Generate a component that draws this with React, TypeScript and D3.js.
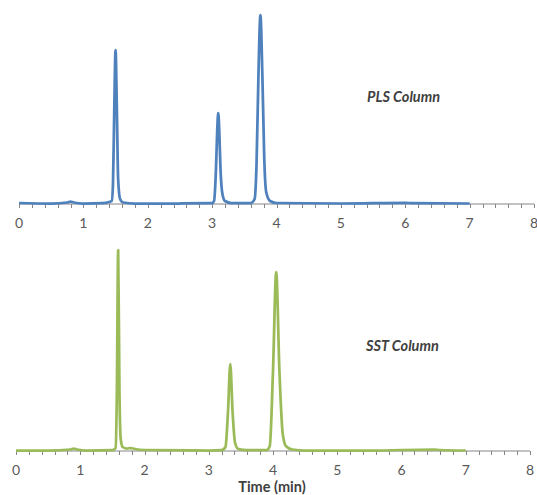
import React, { useEffect, useRef } from 'react';
import * as d3 from 'd3';

// PLS column trace (time in min, detector response)
const plsTime = [0, 0.5, 0.75, 0.8, 0.85, 1.0, 1.3, 1.4, 1.44, 1.46, 1.48, 1.5, 1.52, 1.54, 1.57, 1.62, 1.8, 2.5, 3.0, 3.03, 3.06, 3.08, 3.095, 3.11, 3.13, 3.16, 3.2, 3.3, 3.6, 3.66, 3.69, 3.72, 3.75, 3.78, 3.81, 3.84, 3.9, 4.0, 5.0, 6.0, 6.1, 7.0];
const plsValue = [1, 0.5, 1.5, 2.5, 1.5, 0.5, 0.8, 2, 3, 20, 95, 154, 95, 25, 5, 1.5, 0.5, 0.5, 0.8, 3, 35, 75, 91, 75, 35, 10, 3, 1, 1, 5, 40, 130, 189, 130, 45, 12, 3, 1, 0.5, 1.2, 0.8, 0.5];

// SST column trace
const sstTime = [0, 0.5, 0.85, 0.9, 0.95, 1.1, 1.5, 1.55, 1.57, 1.59, 1.61, 1.63, 1.66, 1.72, 1.78, 1.85, 2.0, 3.0, 3.2, 3.26, 3.3, 3.335, 3.37, 3.41, 3.46, 3.6, 3.9, 3.95, 4.0, 4.05, 4.1, 4.15, 4.2, 4.3, 4.5, 5.5, 6.5, 6.6, 7.0];
const sstValue = [0.5, 0.5, 1.5, 2.5, 1.5, 0.5, 0.8, 3, 60, 201, 60, 12, 4, 2.5, 3, 2, 1, 0.5, 0.8, 4, 40, 87, 40, 8, 2, 0.8, 0.8, 5, 80, 179, 80, 18, 5, 1.5, 0.5, 0.5, 1.5, 1, 0.5];

const xTicks = [0, 1, 2, 3, 4, 5, 6, 7, 8];
const panelLabels = ['PLS Column', 'SST Column'];
const xTitle = 'Time (min)';

const W = 537, H = 495;
const FONT = 'Lato, "Open Sans", sans-serif';

const App = () => {
  const ref = useRef<SVGSVGElement>(null);

  useEffect(() => {
    const svg = d3.select(ref.current);
    svg.selectAll('*').remove();

    const panels = [
      { t: plsTime, v: plsValue, x0: 19, x1: 534, base: 204, color: '#4F81BD', label: panelLabels[0], lx: 367, ly: 102 },
      { t: sstTime, v: sstValue, x0: 16, x1: 530, base: 451, color: '#9BBB59', label: panelLabels[1], lx: 366, ly: 351 },
    ];

    panels.forEach(p => {
      const x = d3.scaleLinear().domain([0, 8]).range([p.x0, p.x1]);
      const y = d3.scaleLinear().domain([0, 200]).range([p.base, p.base - 200]);

      // axis with minor ticks every 0.2 min
      const g = svg.append('g').attr('transform', `translate(0, ${p.base})`);
      g.append('line')
        .attr('x1', x(0)).attr('x2', x(8))
        .attr('stroke', '#868686').attr('stroke-width', 1);
      g.selectAll('line.tick')
        .data(d3.range(0, 40.5).map(i => i / 5))
        .enter().append('line')
        .attr('class', 'tick')
        .attr('x1', d => Math.round(x(d)) + 0.5).attr('x2', d => Math.round(x(d)) + 0.5)
        .attr('y1', 0).attr('y2', 4)
        .attr('stroke', '#868686').attr('stroke-width', 1);
      g.selectAll('text')
        .data(xTicks)
        .enter().append('text')
        .attr('x', d => x(d))
        .attr('y', 24)
        .attr('text-anchor', 'middle')
        .attr('font-family', FONT)
        .attr('font-size', 14)
        .attr('fill', '#595959')
        .text(d => d);

      const data = p.t.map((t, i) => [t, p.v[i]] as [number, number]);
      const line = d3.line<[number, number]>()
        .x(d => x(d[0]))
        .y(d => y(d[1]))
        .curve(d3.curveMonotoneX);
      svg.append('path')
        .datum(data)
        .attr('d', line)
        .attr('fill', 'none')
        .attr('stroke', p.color)
        .attr('stroke-width', 2.75)
        .attr('stroke-linejoin', 'round');

      svg.append('text')
        .attr('x', p.lx).attr('y', p.ly)
        .attr('font-family', FONT)
        .attr('font-size', 14.5)
        .attr('font-weight', 'bold')
        .attr('font-style', 'italic')
        .attr('fill', '#404040')
        .text(p.label);
    });

    svg.append('text')
      .attr('x', 272).attr('y', 492)
      .attr('text-anchor', 'middle')
      .attr('font-family', FONT)
      .attr('font-size', 14.5)
      .attr('font-weight', 'bold')
      .attr('fill', '#404040')
      .text(xTitle);
  }, []);

  return (
    <svg ref={ref} width={W} height={H} style={{ position: 'absolute', left: 0, top: 0, background: '#fff' }} />
  );
};

export default App;
